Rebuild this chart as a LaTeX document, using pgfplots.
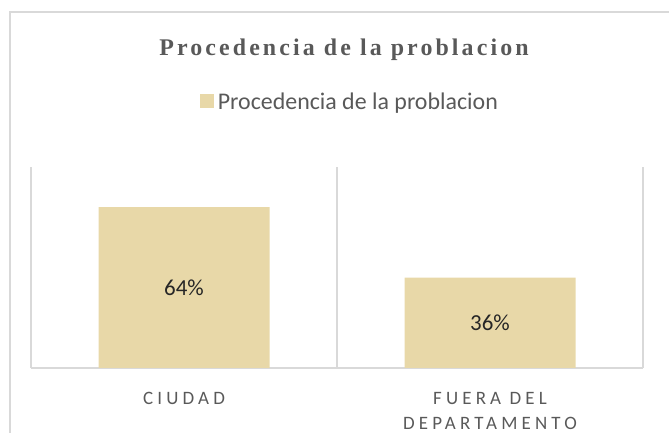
\documentclass[border=0pt]{standalone}
\usepackage{pgfplots}
\pgfplotsset{compat=1.18}
\usepackage{fontspec}
\setmainfont{Carlito}
\newfontfamily\titlefont[LetterSpace=13]{Liberation Serif}
\newfontfamily\tickfont[LetterSpace=22]{Carlito}
\definecolor{barc}{RGB}{232,216,168}
\definecolor{txt}{RGB}{89,89,89}
\definecolor{gridc}{RGB}{217,217,217}
\definecolor{lbl}{RGB}{38,38,38}
\begin{document}
\begin{tikzpicture}[x=1bp,y=1bp]
\useasboundingbox (0,0) rectangle (669,433);
\draw[gridc, line width=1.5bp] (10,0) -- (10,421) -- (669,421);
\node[txt, anchor=base, inner sep=0pt, font=\titlefont\bfseries\fontsize{24}{28}\selectfont] at (344,377) {Procedencia de la problacion};
\begin{axis}[
  at={(31bp,65bp)}, anchor=south west,
  scale only axis, width=612bp, height=201bp,
  xmin=-0.5, xmax=1.5, ymin=0, ymax=80,
  axis y line=none,
  axis x line*=bottom,
  x axis line style={gridc, line width=1.2bp, -},
  xtick={0,1},
  xticklabels={CIUDAD, {FUERA DEL\\DEPARTAMENTO}},
  major tick length=0pt, minor tick length=0pt,
  minor xtick={-0.5,0.5,1.5},
  xminorgrids,
  minor grid style={gridc, line width=1.2bp},
  ytick=\empty,
  xticklabel style={txt, anchor=north, inner sep=0pt, yshift=-24bp, align=center,
    font=\tickfont\fontsize{19}{25}\selectfont},
  clip=false,
  legend style={at={(rel axis cs:0.521,1.323)}, anchor=center, draw=none, fill=none,
    font=\fontsize{24}{28}\selectfont, text=txt, nodes={inner sep=2bp},
    /tikz/every odd column/.style={column sep=2bp}},
  legend image code/.code={\fill[barc] (0bp,-6bp) rectangle (14bp,8bp);},
]
\addplot[ybar, bar width=171bp, fill=barc, draw=none] coordinates {(0,64) (1,36)};
\addlegendentry{Procedencia de la problacion}
\addplot[draw=none, mark=none, forget plot, nodes near coords, point meta=explicit symbolic,
  every node near coord/.style={anchor=center, text=lbl, font=\fontsize{23}{27}\selectfont}]
  coordinates {(0,32) [64\%] (1,18) [36\%]};
\end{axis}
\end{tikzpicture}
\end{document}
